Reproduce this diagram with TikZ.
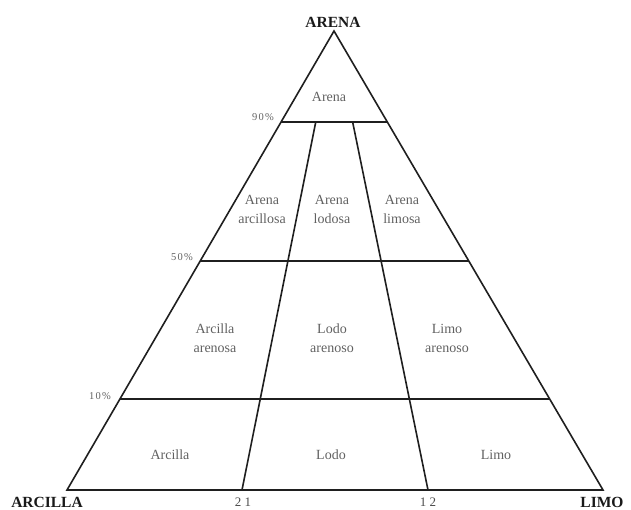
\documentclass[tikz,border=0pt]{standalone}
\usepackage{fontspec}
\setmainfont{Liberation Serif}
\usetikzlibrary{calc}
\begin{document}
\begin{tikzpicture}[x=1pt,y=-1pt,
  edge/.style={draw=black!88, line width=1.6pt},
  region/.style={text=black!62, font=\fontsize{14}{19}\selectfont, align=center, inner sep=0pt},
  corner/.style={text=black!90, font=\fontsize{15.5}{17}\selectfont\bfseries, inner sep=0pt},
  pct/.style={text=black!62, font=\fontsize{10.5}{11}\selectfont\addfontfeature{LetterSpace=12}, inner sep=0pt, anchor=east},
  ratio/.style={text=black!70, font=\fontsize{13}{14}\selectfont, inner sep=0pt}]
\useasboundingbox (0,0) rectangle (631,509);
\coordinate (A) at (334,31);
\coordinate (L) at (67,490);
\coordinate (R) at (603,490);
\coordinate (B1) at (242,490);
\coordinate (B2) at (428,490);
% side points
\coordinate (L90) at ($(A)!0.198!(L)$);
\coordinate (R90) at ($(A)!0.198!(R)$);
\coordinate (L50) at ($(A)!0.501!(L)$);
\coordinate (R50) at ($(A)!0.501!(R)$);
\coordinate (L10) at ($(A)!0.802!(L)$);
\coordinate (R10) at ($(A)!0.802!(R)$);
\coordinate (D1) at ($(A)!0.198!(B1)$);
\coordinate (D2) at ($(A)!0.198!(B2)$);
% outline
\draw[edge, line join=miter] (A) -- (L) -- (R) -- cycle;
\draw[edge] (L90) -- (R90);
\draw[edge] (L50) -- (R50);
\draw[edge] (L10) -- (R10);
\draw[edge] (D1) -- (B1);
\draw[edge] (D2) -- (B2);
% corner labels
\node[corner] (tA) at (333,22) {ARENA};
\node[corner] (tL) at (47,502) {ARCILLA};
\node[corner] (tR) at (602,502) {LIMO};
\node[ratio] (r1) at (243,502) {2 1};
\node[ratio] (r2) at (428,502) {1 2};
% percentages
\node[pct] (p90) at (274,117) {90\%};
\node[pct] (p50) at (193,257) {50\%};
\node[pct] (p10) at (111,396) {10\%};
% regions
\node[region] (n1) at (329,97) {Arena};
\node[region] (n2) at (262,209) {Arena\\arcillosa};
\node[region] (n3) at (332,209) {Arena\\lodosa};
\node[region] (n4) at (402,209) {Arena\\limosa};
\node[region] (n5) at (215,338) {Arcilla\\arenosa};
\node[region] (n6) at (332,338) {Lodo\\arenoso};
\node[region] (n7) at (447,338) {Limo\\arenoso};
\node[region] (n8) at (170,455) {Arcilla};
\node[region] (n9) at (331,455) {Lodo};
\node[region] (n10) at (496,455) {Limo};
\end{tikzpicture}
\end{document}
